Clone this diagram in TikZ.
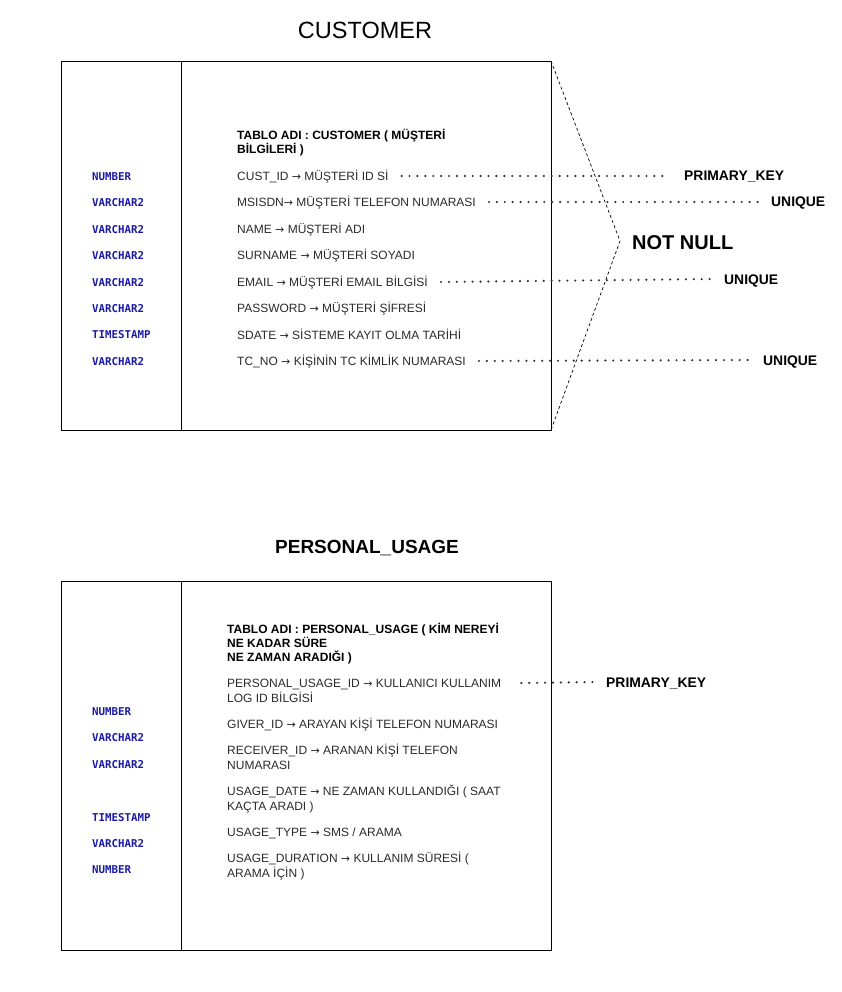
\documentclass[tikz,border=0pt]{standalone}
\usepackage{fontspec}
\setmainfont{Liberation Sans}
\newfontfamily\typefont{DejaVu Sans Mono}
\newfontfamily\arrowfont{DejaVu Sans}
\newcommand{\ra}{{\arrowfont\fontsize{11}{12}\selectfont →}}
\definecolor{typeblue}{HTML}{1A1AA6}
\definecolor{rowgray}{HTML}{2A2A2A}
\begin{document}
\begin{tikzpicture}[x=1pt,y=-1pt,
  tbl/.style={draw=black, line width=0.9pt},
  rowtxt/.style={anchor=west, inner sep=0pt, text=rowgray,
    font=\fontsize{12}{14}\selectfont, text height=8.6pt, text depth=0pt},
  headtxt/.style={rowtxt, text=black, font=\fontsize{12}{14}\selectfont\bfseries},
  typetxt/.style={anchor=west, inner sep=0pt, text=typeblue,
    font=\fontsize{10.8}{12}\typefont\bfseries, text height=7.8pt, text depth=0pt},
  keytxt/.style={anchor=west, inner sep=0pt, text=black,
    font=\fontsize{13.9}{15}\selectfont\bfseries, text height=10pt, text depth=0pt},
  dotline/.style={line width=2.4pt, line cap=round, dash pattern=on 0pt off 7.9pt, black!80},
  nnline/.style={line width=0.7pt, dash pattern=on 3pt off 2.5pt}
]
\useasboundingbox (0,0) rectangle (842,992);

% ---------- CUSTOMER table ----------
\node[font=\fontsize{23.5}{26}\selectfont, inner sep=0pt] (custtitle) at (365,30) {CUSTOMER};
\draw[tbl] (61,61) rectangle (551,430);
\draw[tbl] (181,61) -- (181,430);
\coordinate (nntop) at (551,61);
\coordinate (nntip) at (620,241);
\coordinate (nnbot) at (551,430);

\node[headtxt] (ch1) at (237,135) {TABLO ADI : CUSTOMER ( MÜŞTERİ};
\node[headtxt] (ch2) at (237,149) {BİLGİLERİ )};

\node[rowtxt] (c1) at (237,176) {CUST\_ID \ra{} MÜŞTERİ ID Sİ};
\node[rowtxt] (c2) at (237,202) {MSISDN\ra{} MÜŞTERİ TELEFON NUMARASI};
\node[rowtxt] (c3) at (237,229) {NAME \ra{} MÜŞTERİ ADI};
\node[rowtxt] (c4) at (237,255) {SURNAME \ra{} MÜŞTERİ SOYADI};
\node[rowtxt] (c5) at (237,282) {EMAIL \ra{} MÜŞTERİ EMAIL BİLGİSİ};
\node[rowtxt] (c6) at (237,308) {PASSWORD \ra{} MÜŞTERİ ŞİFRESİ};
\node[rowtxt] (c7) at (237,335) {SDATE \ra{} SİSTEME KAYIT OLMA TARİHİ};
\node[rowtxt] (c8) at (237,361) {TC\_NO \ra{} KİŞİNİN TC KİMLİK NUMARASI};

\node[typetxt] (ct1) at (92,177) {NUMBER};
\node[typetxt] (ct2) at (92,203) {VARCHAR2};
\node[typetxt] (ct3) at (92,230) {VARCHAR2};
\node[typetxt] (ct4) at (92,256) {VARCHAR2};
\node[typetxt] (ct5) at (92,283) {VARCHAR2};
\node[typetxt] (ct6) at (92,309) {VARCHAR2};
\node[typetxt] (ct7) at (92,335) {TIMESTAMP};
\node[typetxt] (ct8) at (92,362) {VARCHAR2};

\node[keytxt] (pk1) at (684,176) {PRIMARY\_KEY};
\node[keytxt] (uq1) at (771,202) {UNIQUE};
\node[keytxt] (uq2) at (724,279) {UNIQUE};
\node[keytxt] (uq3) at (763,360) {UNIQUE};
\node[anchor=west, inner sep=0pt, font=\fontsize{20}{22}\selectfont\bfseries] (nn) at (632,243) {NOT NULL};

\draw[dotline] ([xshift=13pt]c1.east) -- ([xshift=-19pt]pk1.west);
\draw[dotline] ([xshift=13pt]c2.east) -- ([xshift=-9pt]uq1.west);
\draw[dotline] ([xshift=13pt]c5.east) -- ([xshift=-9pt]uq2.west);
\draw[dotline] ([xshift=13pt]c8.east) -- ([xshift=-10pt]uq3.west);

\draw[nnline] (nntop) -- (nntip) -- (nnbot);

% ---------- PERSONAL_USAGE table ----------
\node[font=\fontsize{19}{22}\selectfont\bfseries, inner sep=0pt] (putitle) at (367,548) {PERSONAL\_USAGE};
\draw[tbl] (61,581) rectangle (551,950);
\draw[tbl] (181,581) -- (181,950);

\node[headtxt] (ph1) at (227,629) {TABLO ADI : PERSONAL\_USAGE ( KİM NEREYİ};
\node[headtxt] (ph2) at (227,643) {NE KADAR SÜRE};
\node[headtxt] (ph3) at (227,657) {NE ZAMAN ARADIĞI )};

\node[rowtxt] (p1) at (227,683) {PERSONAL\_USAGE\_ID \ra{} KULLANICI KULLANIM};
\node[rowtxt] (p1b) at (227,698) {LOG ID BİLGİSİ};
\node[rowtxt] (p2) at (227,724) {GIVER\_ID \ra{} ARAYAN KİŞİ TELEFON NUMARASI};
\node[rowtxt] (p3) at (227,750) {RECEIVER\_ID \ra{} ARANAN KİŞİ TELEFON};
\node[rowtxt] (p3b) at (227,765) {NUMARASI};
\node[rowtxt] (p4) at (227,791) {USAGE\_DATE \ra{} NE ZAMAN KULLANDIĞI ( SAAT};
\node[rowtxt] (p4b) at (227,806) {KAÇTA ARADI )};
\node[rowtxt] (p5) at (227,832) {USAGE\_TYPE \ra{} SMS / ARAMA};
\node[rowtxt] (p6) at (227,858) {USAGE\_DURATION \ra{} KULLANIM SÜRESİ (};
\node[rowtxt] (p6b) at (227,873) {ARAMA İÇİN )};

\node[typetxt] (pt1) at (92,712) {NUMBER};
\node[typetxt] (pt2) at (92,738) {VARCHAR2};
\node[typetxt] (pt3) at (92,765) {VARCHAR2};
\node[typetxt] (pt4) at (92,818) {TIMESTAMP};
\node[typetxt] (pt5) at (92,844) {VARCHAR2};
\node[typetxt] (pt6) at (92,870) {NUMBER};

\node[keytxt] (pk2) at (606,682) {PRIMARY\_KEY};
\draw[dotline] ([xshift=20pt]p1.east) -- ([xshift=-11pt]pk2.west);
\end{tikzpicture}
\end{document}
